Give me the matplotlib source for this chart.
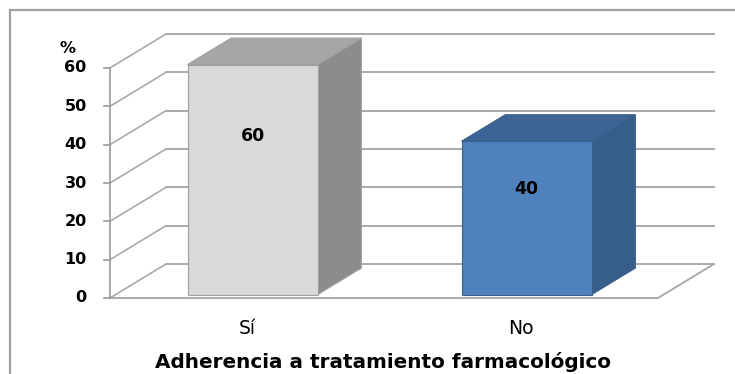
import matplotlib
matplotlib.use("Agg")
import matplotlib.pyplot as plt
from matplotlib.patches import Polygon
from matplotlib.lines import Line2D

# Data
categories = ["Sí", "No"]
values = [60, 40]
value_labels = ["60", "40"]
yticks = [0, 10, 20, 30, 40, 50, 60]
xlabel = "Adherencia a tratamiento farmacológico"
ylabel = "%"

# Styling
front_colors = ["#d9d9d9", "#4f81bd"]
top_colors = ["#a6a6a6", "#3c6595"]
side_colors = ["#8c8c8c", "#375d8a"]
edge_colors = ["#a0a0a0", "#3a5f8c"]
grid_color = "#aaaaaa"
font = "DejaVu Sans"

W, H = 735, 374
fig = plt.figure(figsize=(W / 100, H / 100), dpi=100)

# Outer frame (only top and left edges are inside the canvas)
fig.add_artist(Line2D([10 / W, 1.0], [1 - 10 / H, 1 - 10 / H], color="#a0a0a0", lw=1.6))
fig.add_artist(Line2D([10 / W, 10 / W], [0, 1 - 10 / H], color="#a0a0a0", lw=1.6))

ymax = 70
ax = fig.add_axes([110 / W, 76 / H, 548 / W, (230 / 60 * ymax) / H])
ax.set_xlim(-0.5, 1.5)
ax.set_ylim(0, ymax)
ax.axis("off")

# Depth offset of the 3D box (in data units)
DX = 56 / 274
DY = 34 / (230 / 60)
f0, f1 = 0.10, 0.88      # bar depth span as fraction of the floor depth
bw = 0.475               # bar width
x0, x1 = -0.5, 1.5
top = max(yticks)

# Back wall gridlines and diagonals on the side wall
for t in yticks:
    ax.plot([x0 + DX, x1 + DX], [t + DY, t + DY], color=grid_color, lw=1.4, clip_on=False, zorder=1)
    ax.plot([x0, x0 + DX], [t, t + DY], color=grid_color, lw=1.2, clip_on=False, zorder=1)
    # tick mark
    ax.plot([x0 - 0.022, x0], [t, t], color="#999999", lw=1.2, clip_on=False, zorder=2)
    ax.text(x0 - 0.085, t, str(t), ha="right", va="center", fontsize=11.5,
            fontweight="bold", family=font, color="#000000")

# Floor outline
ax.plot([x0, x1, x1 + DX], [0, 0, DY], color=grid_color, lw=1.4, clip_on=False, zorder=1)
# Vertical axis
ax.plot([x0, x0], [0, top], color="#999999", lw=1.2, clip_on=False, zorder=2)

ax.text(x0 - 0.155, top + 5.2, ylabel, ha="center", va="center", fontsize=11.5,
        fontweight="bold", family=font)

# 3D bars
for i, (v, lab) in enumerate(zip(values, value_labels)):
    ox, oy = f0 * DX, f0 * DY
    bx, by = f1 * DX, f1 * DY
    L, R = i - bw / 2, i + bw / 2
    front = [(L + ox, oy), (R + ox, oy), (R + ox, v + oy), (L + ox, v + oy)]
    side = [(R + ox, oy), (R + bx, by), (R + bx, v + by), (R + ox, v + oy)]
    topf = [(L + ox, v + oy), (R + ox, v + oy), (R + bx, v + by), (L + bx, v + by)]
    for poly, col in ((side, side_colors[i]), (topf, top_colors[i]), (front, front_colors[i])):
        ax.add_patch(Polygon(poly, closed=True, facecolor=col, edgecolor=edge_colors[i],
                             lw=0.8, clip_on=False, zorder=3))
    ax.text(i + ox, 0.69 * v + oy, lab, ha="center", va="center", fontsize=12.5,
            fontweight="bold", family=font, color="#000000", zorder=4)

# Category labels
for i, c in enumerate(categories):
    ax.text(i, -8.0, c, ha="center", va="center", fontsize=13.5, family=font)

fig.text(383 / W, 1 - 362 / H, xlabel, ha="center", va="center", fontsize=14.4,
         fontweight="bold", family=font)

fig.savefig("out.png", dpi=100)
